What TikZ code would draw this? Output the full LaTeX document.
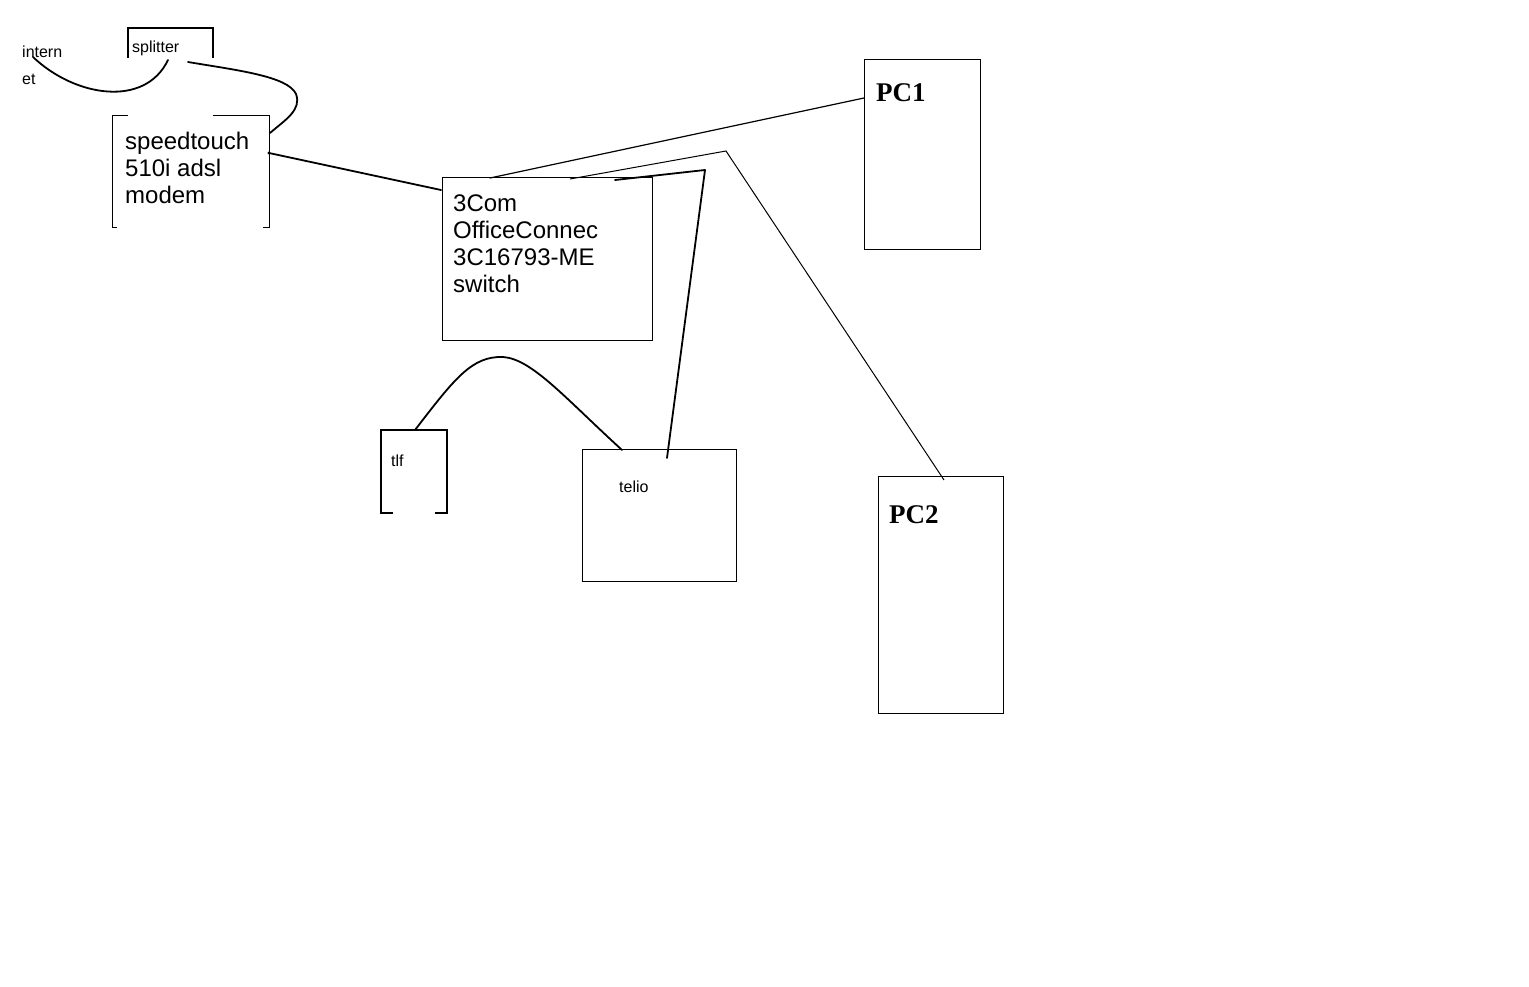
\documentclass[tikz,border=0pt]{standalone}
\usepackage{fontspec}
\setmainfont{Liberation Sans}
\newfontfamily\pcfont{Liberation Serif}
\begin{document}
\begin{tikzpicture}[x=1pt,y=-1pt,
  box/.style={draw,line width=1pt,rectangle,inner sep=0pt},
  ghost/.style={rectangle,inner sep=0pt},
  big/.style={inner sep=0pt,anchor=base west,align=left,font=\fontsize{24}{27}\selectfont},
  small/.style={inner sep=0pt,anchor=base west,align=left,font=\fontsize{16}{27}\selectfont},
  pclbl/.style={inner sep=0pt,anchor=base west,font=\fontsize{27}{30}\pcfont\bfseries},
  wire/.style={line width=1.8pt,line cap=round,line join=round},
  thinwire/.style={line width=1.2pt,line cap=round},
  brk/.style={line width=1.8pt},
  thinbrk/.style={line width=1pt}]
\fill[white] (0,0) rectangle (1529,987);
\useasboundingbox (0,0) rectangle (1529,987);

% nodes
\node[ghost,minimum width=85pt,minimum height=30pt] (spl) at (170.5,43) {};
\node[ghost,minimum width=156pt,minimum height=111pt] (mdm) at (191,171.5) {};
\node[box,minimum width=210pt,minimum height=162pt] (sw) at (547,259) {};
\node[box,minimum width=116pt,minimum height=190pt] (pc1) at (922,155) {};
\node[box,minimum width=125pt,minimum height=237pt] (pc2) at (940.5,594.5) {};
\node[ghost,minimum width=66pt,minimum height=83pt] (tlf) at (414,471.5) {};
\node[box,minimum width=154pt,minimum height=132pt] (telio) at (659,515) {};

% brackets
\draw[brk] (spl.south west) -- (spl.north west) -- (spl.north east) -- (spl.south east);
\draw[thinbrk] ([xshift=15pt]mdm.north west) -- (mdm.north west) -- (mdm.south west) -- ([xshift=4pt]mdm.south west);
\draw[thinbrk] ([xshift=-56pt]mdm.north east) -- (mdm.north east) -- (mdm.south east) -- ([xshift=-6pt]mdm.south east);
\draw[brk] ([xshift=12pt]tlf.south west) -- (tlf.south west) -- (tlf.north west) -- (tlf.north east) -- (tlf.south east) -- ([xshift=-12pt]tlf.south east);

% texts (base anchor of a multi-line node = last baseline)
\node[small] (inet) at (22,85) {intern\\et};
\node[small] (splt) at (132,53) {splitter};
\node[big] (mdmt) at (125,204) {speedtouch\\510i adsl\\modem};
\node[big] (swt) at (453,292) {3Com\\OfficeConnec\\3C16793-ME\\switch};
\node[pclbl] (pc1t) at (876,102) {PC1};
\node[pclbl] (pc2t) at (889,523) {PC2};
\node[small] (tlft) at (391,466) {tlf};
\node[small] (teliot) at (619,492) {telio};

% connector ends
\coordinate (i0) at (33,57);
\coordinate (s0) at (168,60);
\coordinate (s1) at (188,62);
\coordinate (m0) at (270,133);
\coordinate (m1) at (269,153);
\coordinate (w0) at (441,190);
\coordinate (w1) at (490,178);
\coordinate (p1) at (864,98);
\coordinate (w2) at (570,179);
\coordinate (k2) at (726,151);
\coordinate (p2) at (944,480);
\coordinate (w3) at (615,180);
\coordinate (k3) at (705,170);
\coordinate (t0) at (667,458);
\coordinate (l0) at (415,430);
\coordinate (t1) at (622,450);

% connectors
\draw[wire] (i0) .. controls (75,97) and (145,108) .. (s0);
\draw[wire] (s1) .. controls (235,70) and (288,76) .. (296,94) .. controls (302,110) and (285,120) .. (m0);
\fill (m1) circle (1.6pt);
\draw[wire] (m1) -- (w0);
\draw[thinwire] (w1) -- (p1);
\draw[line width=1pt] (w2) -- (k2) -- (p2);
\draw[wire] (w3) -- (k3) -- (t0);
\draw[wire] (l0) .. controls (455,378) and (472,356) .. (503,357) .. controls (532,359) and (565,398) .. (t1);
\end{tikzpicture}
\end{document}
